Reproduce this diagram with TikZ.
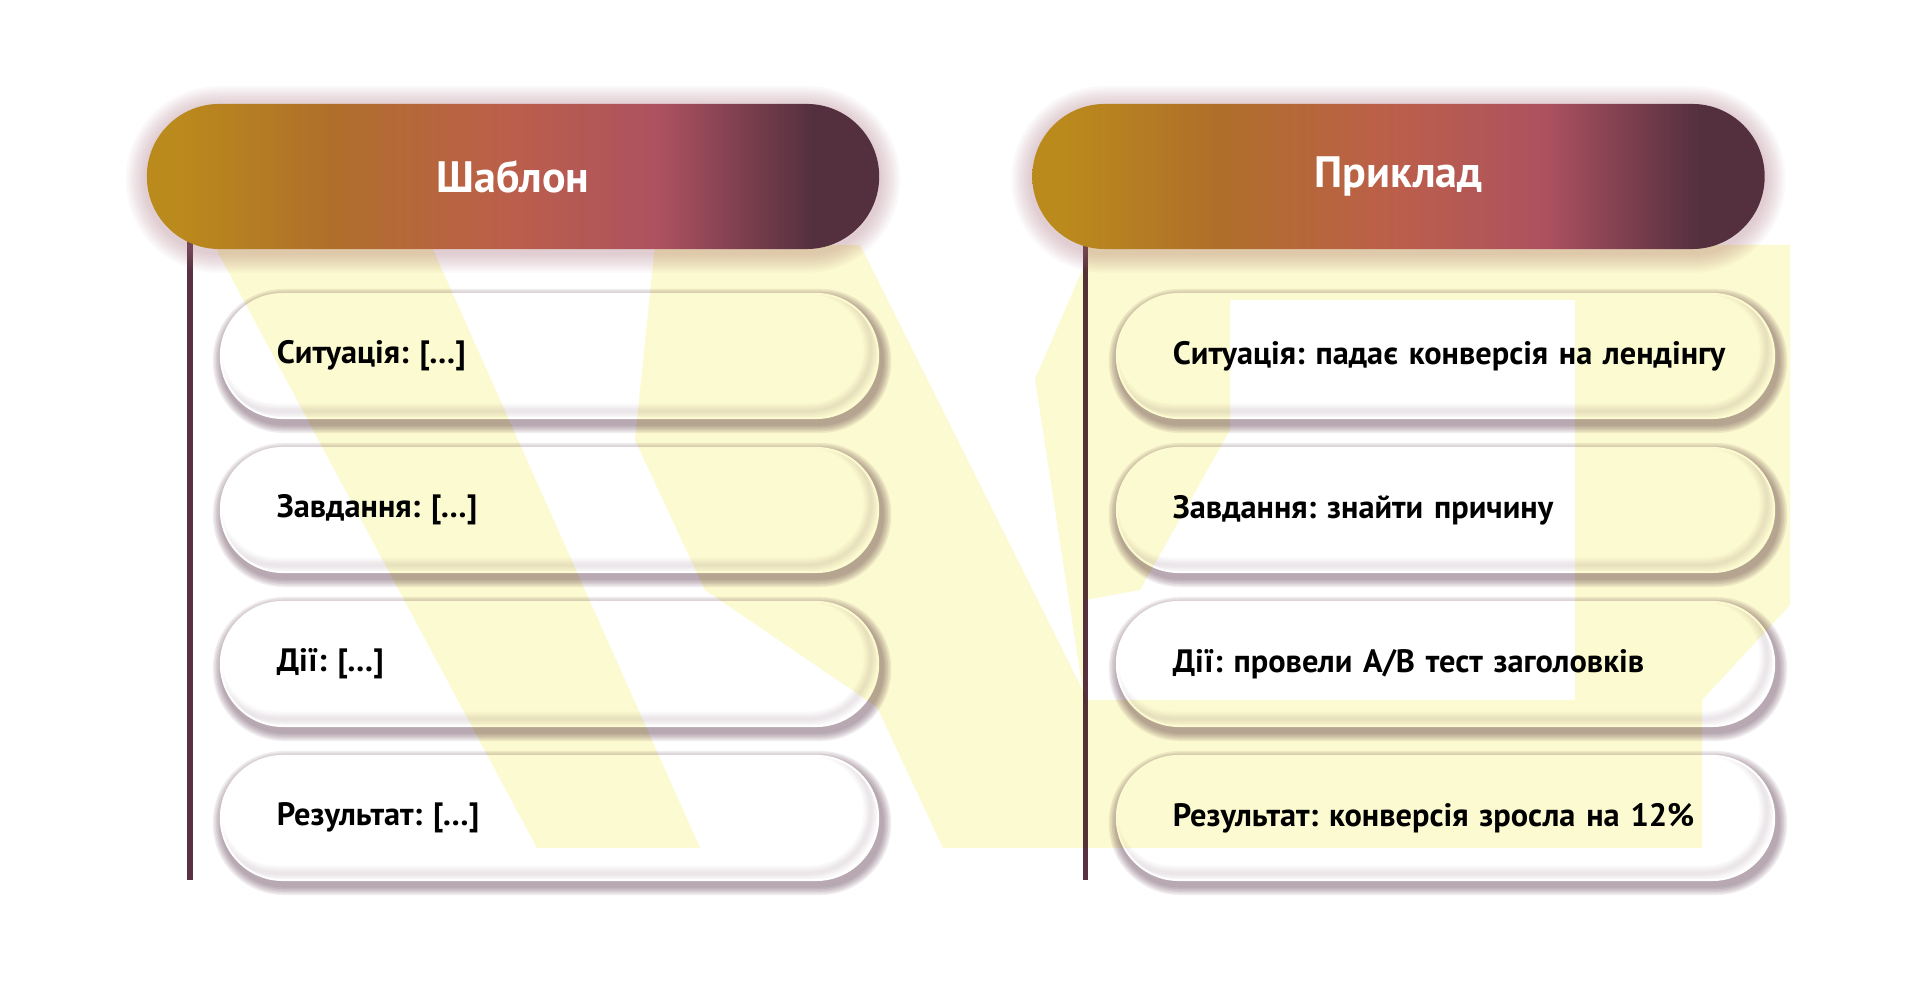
\documentclass[tikz,border=0pt]{standalone}
\usepackage{fontspec}
\setmainfont{PT Sans}
\frenchspacing
\definecolor{hgold}{HTML}{BB8A1C}
\definecolor{hbrown}{HTML}{AF6F2A}
\definecolor{hterra}{HTML}{BC5F4A}
\definecolor{hrose}{HTML}{AD5160}
\definecolor{hplum}{HTML}{54303F}
\definecolor{spinecol}{HTML}{583242}
\definecolor{wmarkcol}{HTML}{FCFAD0}
\definecolor{boxshadow}{HTML}{5E3A4E}
\definecolor{headglow}{HTML}{B07888}
\pgfdeclarehorizontalshading{headshade}{100bp}{color(0bp)=(hgold); color(27bp)=(hgold); color(37.5bp)=(hbrown); color(49.5bp)=(hterra); color(60bp)=(hrose); color(70.5bp)=(hplum); color(100bp)=(hplum)}
\pgfdeclarelayer{bg}
\pgfsetlayers{bg,main}
\tikzset{
  head/.style={shade, shading=headshade, rounded corners=0.725cm, minimum width=7.32cm, minimum height=1.45cm, text=white, font=\fontsize{12.5}{15}\selectfont\bfseries},
  item/.style={fill=white, draw=white, line width=0.02cm, rounded corners=0.62cm, minimum height=1.24cm, text width=5.45cm, inner xsep=0.56cm, inner ysep=0pt, align=left, font=\fontsize{9.2}{11}\selectfont\bfseries,
    path picture={\foreach \k in {1,...,5} \draw[boxshadow, opacity=0.025, line width=\k*0.03cm, rounded corners=0.62cm] ([shift={(-7,-7)}]path picture bounding box.north west) rectangle ([shift={(-7,-7)}]path picture bounding box.south east);}},
  spine/.style={draw=spinecol, line width=0.05cm},
  wmark/.style={fill=wmarkcol, draw=none, blend mode=multiply},
}
\begin{document}
\begin{tikzpicture}[x=0.01cm, y=-0.01cm]
\useasboundingbox (0,0) rectangle (1920,983);
\foreach \n/\yy/\txt in {1/356/{Ситуація: […]}, 2/510/{Завдання: […]}, 3/664/{Дії: […]}, 4/818/{Результат: […]}}
  \node[item] (tL\n) at (549.5,\yy) {\mbox{\txt}};
\foreach \n/\yy/\txt in {1/356/{Ситуація: падає конверсія на лендінгу}, 2/510/{Завдання: знайти причину}, 3/664/{Дії: провели A/B тест заголовків}, 4/818/{Результат: конверсія зросла на 12\%}}
  \node[item] (tR\n) at (1445.5,\yy) {\mbox{\txt}};
\fill[wmark] (214,245) -- (431,245) -- (700,848) -- (537,848) -- cycle;
\fill[wmark] (655,245) -- (860,245) -- (1085,695) -- (1085,848) -- (943,848) -- (877,707) -- (705,590) -- (635,440) -- cycle;
\fill[wmark] (1085,264) -- (1035,379) -- (1085,705) -- cycle;
\fill[wmark, even odd rule] (1085,245) -- (1790,245) -- (1790,605) -- (1702,700) -- (1702,848) -- (1085,848) -- cycle
  (1230,300) -- (1575,300) -- (1575,700) -- (1085,700) -- (1085,600) -- (1140,590) -- (1230,430) -- cycle;
\node[head] (hdL) at (513,176.5) {Шаблон};
\node[head] (hdR) at (1398.5,176.5) {Приклад};
\coordinate (botL) at (190,880);
\coordinate (botR) at (1085,880);
\begin{pgfonlayer}{bg}
\fill[white] (0,0) rectangle (1920,983);
\draw[spine] (hdL.center -| botL) -- (botL);
\draw[spine] (hdR.center -| botR) -- (botR);
\foreach \b in {hdL,hdR}
  \foreach \k in {1,...,8}
    \fill[headglow, opacity=0.05, rounded corners=0.725cm+\k*0.025cm] ([shift={(-\k*2.5,-\k*2.5+3)}]\b.north west) rectangle ([shift={(\k*2.5,\k*2.5+3)}]\b.south east);
\foreach \s in {L,R}
  \foreach \n in {1,...,4}
    \foreach \k in {1,...,6}
      \fill[boxshadow, opacity=0.09, rounded corners=0.62cm+\k*0.015cm] ([shift={(-\k*1.5+2,-\k*1.5+5)}]t\s\n.north west) rectangle ([shift={(\k*1.5+3,\k*1.5+5)}]t\s\n.south east);
\end{pgfonlayer}
\end{tikzpicture}
\end{document}
